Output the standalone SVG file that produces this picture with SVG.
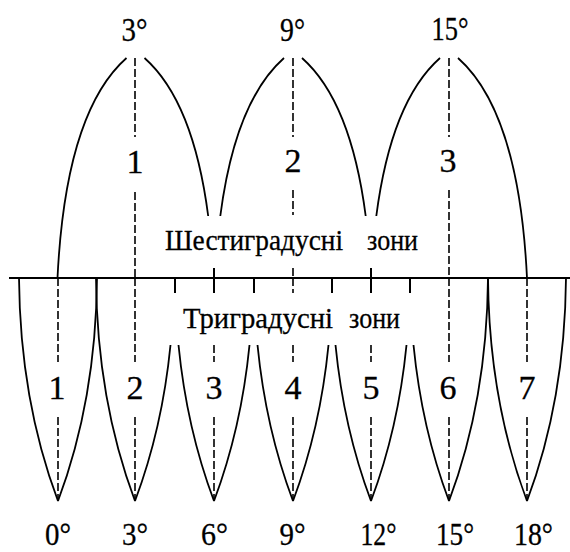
<svg xmlns="http://www.w3.org/2000/svg" width="570" height="552" viewBox="0 0 570 552">
<style>
.arc{fill:none;stroke:#000;stroke-width:1.8}
.dash{fill:none;stroke:#000;stroke-width:1.6;stroke-dasharray:8 3}
.tick{fill:none;stroke:#000;stroke-width:2}
.eq{fill:none;stroke:#000;stroke-width:2.2}
.t{font-family:"Liberation Serif","Times New Roman",serif}
.t text{stroke:#000;stroke-width:0.3}
.num{font-size:34px;text-anchor:middle}
.bot{font-size:32px;text-anchor:middle}
.lbl{font-size:30px}
</style>
<rect width="570" height="552" fill="#fff"/>

<g id="equator">
<path class="eq" d="M9,278H570"/>
<path class="tick" d="M175,278V293M254,278V293M332,278V293M410,278V293M214,268V293M371,268V293"/>
</g>

<g id="six-degree-zones" class="t">
<g id="zone6-1">
<path class="arc" d="M57.5,278 Q65.5,112 126.5,58"/>
<path class="arc" d="M208.2,216 Q193.3,101.2 144.5,58"/>
<path class="dash" d="M135,58V137M135,192V278"/>
<text class="num" x="135" y="173">1</text>
<text class="num" x="134.5" y="41" textLength="26" lengthAdjust="spacingAndGlyphs">3°</text>
</g>
<g id="zone6-2">
<path class="arc" d="M220.3,216 Q235.2,101.2 284,58"/>
<path class="arc" d="M365.7,216 Q350.8,101.2 302,58"/>
<path class="dash" d="M293,58V137M293,190V215M293,268V278"/>
<text class="num" x="293" y="172">2</text>
<text class="num" x="292.5" y="41" textLength="25" lengthAdjust="spacingAndGlyphs">9°</text>
</g>
<g id="zone6-3">
<path class="arc" d="M376.3,216 Q391.2,101.2 440,58"/>
<path class="arc" d="M527,278 Q519,112 458,58"/>
<path class="dash" d="M449,58V137M449,190V278"/>
<text class="num" x="448" y="172">3</text>
<text class="num" x="450" y="40" textLength="37" lengthAdjust="spacingAndGlyphs">15°</text>
</g>
<text id="label-six" class="lbl" x="165" y="250"><tspan textLength="178" lengthAdjust="spacingAndGlyphs">Шестиградусні</tspan><tspan x="367" textLength="51" lengthAdjust="spacingAndGlyphs">зони</tspan></text>
</g>

<g id="three-degree-zones" class="t">
<g id="zone3-1">
<path class="arc" d="M58,501 Q20,400 19,278M58,501 Q96,400 97,278"/>
<path class="dash" d="M58,278V362M58,417V501"/>
<text class="num" x="57" y="399">1</text>
<text class="bot" x="58" y="545" textLength="26" lengthAdjust="spacingAndGlyphs">0°</text>
</g>
<g id="zone3-2">
<path class="arc" d="M135,501 Q97,400 96,278M135,501 Q162.3,428.4 170.5,345"/>
<path class="dash" d="M135,278V362M135,417V501"/>
<text class="num" x="135" y="399">2</text>
<text class="bot" x="135" y="545" textLength="26" lengthAdjust="spacingAndGlyphs">3°</text>
</g>
<g id="zone3-3">
<path class="arc" d="M214,501 Q186.7,428.4 178.5,345M214,501 Q241.3,428.4 249.5,345"/>
<path class="dash" d="M214,278V293M214,345V362M214,417V501"/>
<text class="num" x="214" y="399">3</text>
<text class="bot" x="214.5" y="545" textLength="27" lengthAdjust="spacingAndGlyphs">6°</text>
</g>
<g id="zone3-4">
<path class="arc" d="M293,501 Q265.7,428.4 257.5,345M293,501 Q320.3,428.4 328.5,345"/>
<path class="dash" d="M293,278V293M293,345V362M293,417V501"/>
<text class="num" x="293" y="399">4</text>
<text class="bot" x="292.5" y="545" textLength="26" lengthAdjust="spacingAndGlyphs">9°</text>
</g>
<g id="zone3-5">
<path class="arc" d="M371,501 Q343.7,428.4 335.5,345M371,501 Q398.3,428.4 406.5,345"/>
<path class="dash" d="M371,278V293M371,345V362M371,417V501"/>
<text class="num" x="371" y="399">5</text>
<text class="bot" x="378.5" y="545" textLength="36" lengthAdjust="spacingAndGlyphs">12°</text>
</g>
<g id="zone3-6">
<path class="arc" d="M449,501 Q421.7,428.4 413.5,345M449,501 Q487,400 488,278"/>
<path class="dash" d="M449,278V362M449,417V501"/>
<text class="num" x="448" y="399">6</text>
<text class="bot" x="455" y="545" textLength="38" lengthAdjust="spacingAndGlyphs">15°</text>
</g>
<g id="zone3-7">
<path class="arc" d="M527,501 Q489,400 488,278M527,501 Q565,400 566,278"/>
<path class="dash" d="M527,278V362M527,417V501"/>
<text class="num" x="527" y="399">7</text>
<text class="bot" x="533.5" y="545" textLength="39" lengthAdjust="spacingAndGlyphs">18°</text>
</g>
<text id="label-three" class="lbl" x="183" y="328"><tspan textLength="150" lengthAdjust="spacingAndGlyphs">Триградусні</tspan><tspan x="349" textLength="51" lengthAdjust="spacingAndGlyphs">зони</tspan></text>
</g>
</svg>
